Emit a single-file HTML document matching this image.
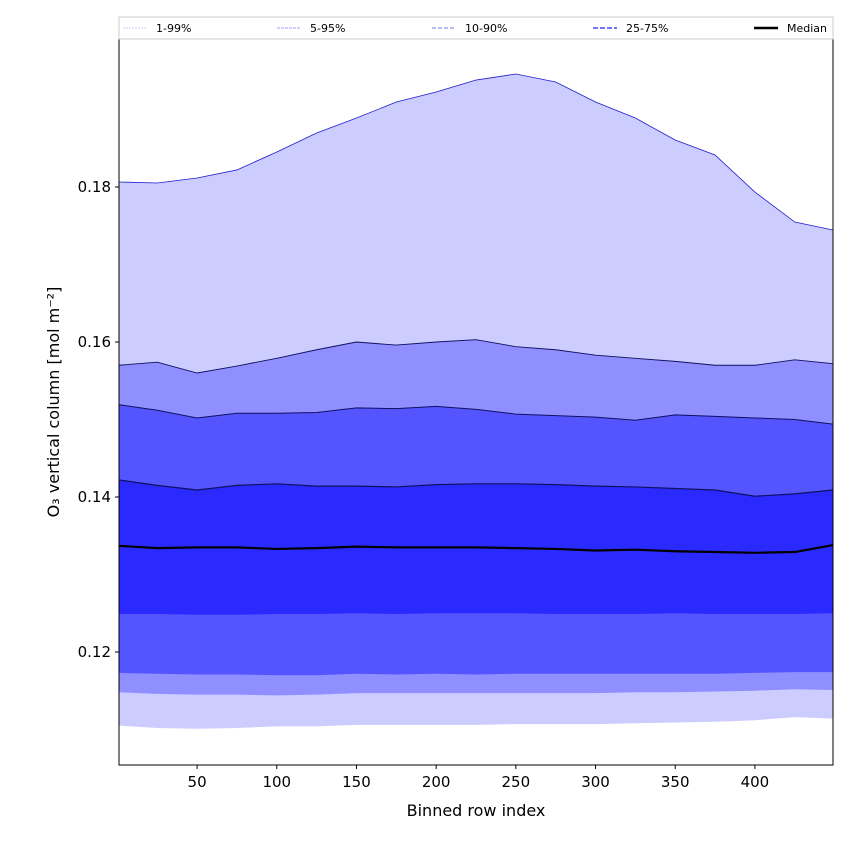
<!DOCTYPE html>
<html><head><meta charset="utf-8"><style>
body{margin:0;background:#fff;width:850px;height:850px;overflow:hidden;font-family:"DejaVu Sans","Liberation Sans",sans-serif}
</style></head><body>
<svg id="chart" width="850" height="850" xmlns="http://www.w3.org/2000/svg" font-family="DejaVu Sans, Liberation Sans, sans-serif"></svg>
<script>
const xs   = [1,25,50,75,100,125,150,175,200,225,250,275,300,325,350,375,400,425,449];
const p99  = [.18065,.18052,.18116,.1822,.18452,.18697,.1889,.19097,.19226,.1938,.19458,.19355,.19097,.1889,.18606,.18413,.17935,.17548,.17445];
const p95  = [.157,.1574,.156,.1569,.1579,.159,.160,.1596,.160,.1603,.1594,.159,.1583,.1579,.1575,.157,.157,.1577,.1572];
const p90  = [.1519,.1512,.1502,.1508,.1508,.1509,.1515,.1514,.1517,.1513,.1507,.1505,.1503,.1499,.1506,.1504,.1502,.1500,.1494];
const p75  = [.1422,.1415,.1409,.1415,.1417,.1414,.1414,.1413,.1416,.1417,.1417,.1416,.1414,.1413,.1411,.1409,.1401,.1404,.1409];
const p50  = [.1337,.1334,.1335,.1335,.1333,.1334,.1336,.1335,.1335,.1335,.1334,.1333,.1331,.1332,.1330,.1329,.1328,.1329,.1338];
const p25  = [.1249,.1249,.1248,.1248,.1249,.1249,.1250,.1249,.1250,.1250,.1250,.1249,.1249,.1249,.1250,.1249,.1249,.1249,.1250];
const p10  = [.1173,.1172,.1171,.1171,.1170,.1170,.1172,.1171,.1172,.1171,.1172,.1172,.1172,.1172,.1172,.1172,.1173,.1174,.1174];
const p5   = [.1148,.1146,.1145,.1145,.1144,.1145,.1147,.1147,.1147,.1147,.1147,.1147,.1147,.1148,.1148,.1149,.1150,.1152,.1151];
const p1   = [.1105,.1102,.1101,.1102,.1104,.1104,.1106,.1106,.1106,.1106,.1107,.1107,.1107,.1108,.1109,.1110,.1112,.1116,.1114];
const xTicks = [50,100,150,200,250,300,350,400];
const yTicks = [0.12,0.14,0.16,0.18];

const L=119,R=833,T=39,B=765;
const X=v=>L+(v-1)*(R-L)/448;
const Y=v=>187+(0.18-v)*7750;
const svg=document.getElementById('chart');
const NS='http://www.w3.org/2000/svg';
function mk(tag,attrs,parent){const e=document.createElementNS(NS,tag);for(const k in attrs)e.setAttribute(k,attrs[k]);(parent||svg).appendChild(e);return e;}
function band(up,lo,fill,name){
  let d='M'+xs.map((x,i)=>X(x)+','+Y(up[i])).join('L');
  d+='L'+xs.map((x,i)=>[X(x),Y(lo[i])]).reverse().map(p=>p.join(',')).join('L')+'Z';
  const e=mk('path',{d:d,fill:fill});
  
  
}
function line(arr,stroke,w,name){
  const e=mk('path',{d:'M'+xs.map((x,i)=>X(x)+','+Y(arr[i])).join('L'),fill:'none',stroke:stroke,'stroke-width':w});
  
  
}
band(p99,p1,'#ccccff','band-1-99');
band(p95,p5,'#8f8fff','band-5-95');
band(p90,p10,'#5555ff','band-10-90');
band(p75,p25,'#2a2aff','band-25-75');
line(p99,'#2020cc',0.8,'p99-line');
line(p95,'#101060',0.9,'p95-line');
line(p90,'#101060',1,'p90-line');
line(p75,'#101060',1.2,'p75-line');
line(p50,'#000',2.2,'median-line');

const fr=mk('rect',{x:L,y:T,width:R-L,height:B-T,fill:'none',stroke:'#000','stroke-width':1});


xTicks.forEach(t=>{
  mk('line',{x1:X(t),x2:X(t),y1:B,y2:B+4,stroke:'#000'});
  const tx=mk('text',{x:X(t),y:B+22,'text-anchor':'middle','font-size':15});tx.textContent=t;
  
  
});
yTicks.forEach(t=>{
  mk('line',{x1:L-4,x2:L,y1:Y(t),y2:Y(t),stroke:'#000'});
  const tx=mk('text',{x:L-8,y:Y(t)+5,'text-anchor':'end','font-size':15});tx.textContent=t.toFixed(2);
  
  
});
const xt=mk('text',{x:476,y:816,'text-anchor':'middle','font-size':16});xt.textContent='Binned row index';


const yt=mk('text',{x:0,y:0,'text-anchor':'middle','font-size':16,transform:'translate(59,402) rotate(-90)'});yt.textContent='O₃ vertical column [mol m⁻²]';



const lg=mk('g',{});


mk('rect',{x:119,y:17,width:714,height:22,fill:'#fff',stroke:'#ccc','stroke-width':1},lg);
const legendItems=[['1-99%','#ccccff','2,1',1,123],['5-95%','#a0a0f0','3,1',1,277],['10-90%','#9090f0','4,2',1.3,432],['25-75%','#6060ff','5,2',1.8,593],['Median','#000','',2.5,754]];
legendItems.forEach(it=>{
  const g=mk('g',{},lg);
  
  
  const a={x1:it[4],x2:it[4]+24,y1:28,y2:28,stroke:it[1],'stroke-width':it[3]};
  if(it[2])a['stroke-dasharray']=it[2];
  mk('line',a,g);
  const t=mk('text',{x:it[4]+33,y:32,'font-size':11},g);t.textContent=it[0];
});
</script>
</body></html>
